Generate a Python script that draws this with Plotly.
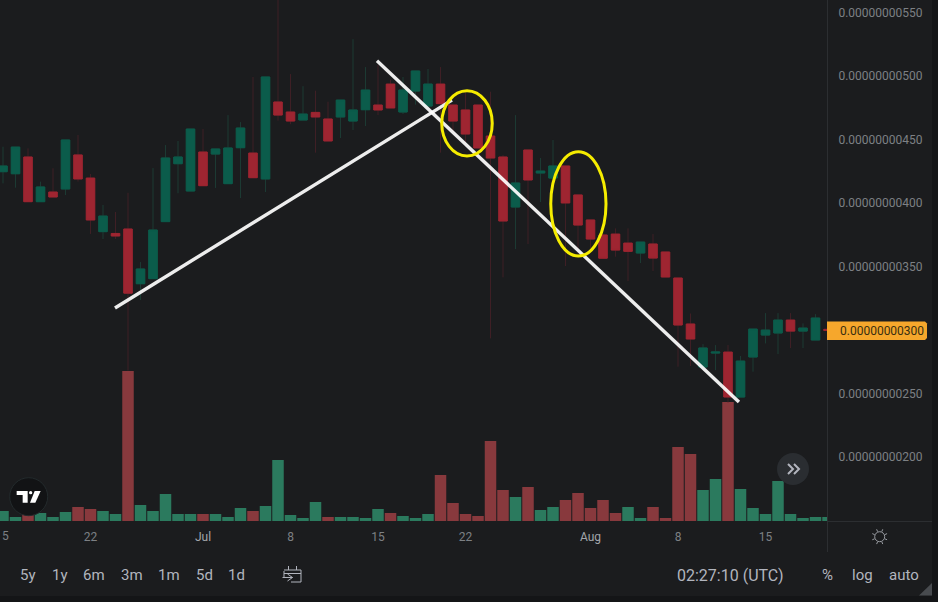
import math
import pandas as pd
import plotly.graph_objects as go

# ---- data (price unit: 1e-11, so 300 = 0.00000000300) ----
DATES = pd.date_range("2022-06-15", periods=67, freq="D")
OPEN = [424.6,423,436.2,401,408.6,411,437.8,419.6,377.4,376,379.5,336.4,340.4,385.3,430.9,409.4,
        440.1,438.5,415.2,443.5,439.3,418.9,479.5,471.6,465.3,471.3,466.1,467.7,464.5,473.4,477.1,493.6,471.6,488.1,476.3,493.6,477.1,473.2,477.1,452.7,436.2,396.8,441.7,423.6,419.6,429.1,406.3,
        386.6,374.8,375.5,368.4,360.6,367.7,361.4,340.9,304.7,270.8,281.8,282.6,247.2,278.7,296,297.6,307.8,299.1,292.1,300.5]
CLOSE = [429.1,444,401,412.6,404.7,449.6,418.9,386.6,389.7,374,329,348,378.7,435.4,436.2,458.2,
         413.6,442.5,443.3,459,419.9,499.2,469.2,464.5,470,467.7,448.8,481,473.2,488.9,473.2,474.8,488.9,503.9,493.6,478.2,464.5,454.3,443.3,435.4,385.8,415.7,418.1,425.1,429.1,400,382.6,
         371.6,356.5,362.9,361.9,369.2,356.6,341.7,303.9,292.9,285.8,282.6,247.2,275.5,300.7,299.9,307.8,299.1,301.5,309.4,299.7]
HIGH = [444.3,444,443,416.8,427.3,449.6,453.5,422.8,398.4,392.9,408,353.5,427.5,445.6,448.8,458.2,
        458.2,442.5,469.2,463.7,499.2,499.2,570,501.5,492,488.4,479.7,481,529,507,508.6,497,499.2,503.9,505.5,507,477.1,486.9,477.1,487.6,437.8,469.2,441.7,435.4,449.6,429.1,406.3,
        386.6,374.8,380,380,369.2,375.5,361.4,340.9,313,288.9,288.1,288.1,279.5,300.7,313.3,313.3,313.3,305.2,312.5,301]
LOW = [415.4,412,401,401,404.7,406.2,416.8,375.6,371.6,371.6,268,323.6,340.4,385.3,407.6,409.4,
       413.6,411.8,415.2,403.9,419.9,408.6,464.8,462,465.3,439.6,448.8,451.1,457.4,460.6,469.2,474.8,470,477.4,476.3,439.6,456.1,447,443.3,293.4,341.4,363.7,367.7,400.7,418,350.3,360.3,
       362.9,356.5,357.7,338.5,352.7,346.4,341.7,271.1,271.6,270.8,268.4,243,247.2,267.1,289.4,281,285.8,285.8,292.1,299]
VOLUME = [10,4,7,8,4,9,14,12,10,7,150,16,10,27,7,7,7,7,4,13,10,15,61,6,3,19,4,4,4,3,12,8,5,3,
          7,46,18,7,5,80,31,24,34,11,14,21,28,13,21,8,14,3,14,3,74,67,31,42,119,32,13,7,40,7,3,4,4]
VOLUME_UP = [1,1,0,1,1,1,0,0,1,1,0,1,1,1,1,1,0,1,1,1,0,1,1,1,1,1,0,1,1,1,1,0,1,1,
             1,0,0,0,0,0,0,1,0,1,1,0,0,0,0,0,1,1,0,0,0,0,1,1,0,1,1,1,1,1,1,1,1]
PRICE_TICKS = [200,250,350,400,450,500,550]
PRICE_LABELS = ["0.00000000200","0.00000000250","0.00000000350","0.00000000400",
                "0.00000000450","0.00000000500","0.00000000550"]
DATE_TICKS = ["2022-06-22","2022-07-01","2022-07-08","2022-07-15","2022-07-22","2022-08-01","2022-08-08","2022-08-15"]
DATE_LABELS = ["22","<span style='color:#a3a6ab'>Jul</span>","8","15","22","<span style='color:#a3a6ab'>Aug</span>","8","15"]
LAST_PRICE_LABEL = "0.00000000300"
TREND_UP_X = ["2022-06-23 23:00","2022-07-20 22:00"]
TREND_UP_Y = [317.3,481]
TREND_DOWN_X = ["2022-07-14 22:00","2022-08-12 21:00"]
TREND_DOWN_Y = [512,243.3]
ELLIPSE_1 = ["2022-07-20 02:24","2022-07-24 03:22",437,488.4]
ELLIPSE_2 = ["2022-07-28 19:41","2022-08-02 05:46",358.2,440.4]
RANGE_BUTTONS = [("5y",28),("1y",60),("6m",94),("3m",132),("1m",169),("5d",204),("1d",237)]

# ---- style ----
W,H = 938,602
BG="#1b1c1e"; OUTER="#141517"; AXIS="#2c2e31"; TXT="#7d8084"; BTN="#b2b5be"
UP="#0b5c4b"; DOWN="#9e2531"; UP_WICK="#1c3a33"; DOWN_WICK="#3f1f25"
VUP="#2b7a5e"; VDOWN="#88393d"
FONT="Roboto"

def px(x): return x/W
def py(y): return 1-y/H
def path(points, close=False):
    s="M "+" L ".join(f"{px(a):.5f},{py(b):.5f}" for a,b in points)
    return s+(" Z" if close else "")
def z4(a,b): return (a/3,360+b/3)

fig=go.Figure()
fig.add_trace(go.Bar(x=DATES,y=VOLUME,marker=dict(color=[VUP if u else VDOWN for u in VOLUME_UP],line_width=0),
                     yaxis="y",hoverinfo="skip",showlegend=False))
def candle(o,h,l,c,cu,cd):
    return go.Candlestick(x=DATES,open=o,high=h,low=l,close=c,yaxis="y2",hoverinfo="skip",showlegend=False,
        increasing=dict(line=dict(color=cu,width=1),fillcolor=UP),
        decreasing=dict(line=dict(color=cd,width=1),fillcolor=DOWN))
fig.add_trace(candle(OPEN,HIGH,LOW,CLOSE,UP_WICK,DOWN_WICK))
body_hi=[max(a,b) for a,b in zip(OPEN,CLOSE)]
body_lo=[min(a,b) for a,b in zip(OPEN,CLOSE)]
fig.add_trace(candle(OPEN,body_hi,body_lo,CLOSE,UP,DOWN))
for xs,ys in ((TREND_UP_X,TREND_UP_Y),(TREND_DOWN_X,TREND_DOWN_Y)):
    fig.add_trace(go.Scatter(x=xs,y=ys,mode="lines",yaxis="y2",hoverinfo="skip",showlegend=False,
                             line=dict(color="rgba(255,255,255,0.92)",width=3.4)))

shapes=[
    dict(type="rect",xref="paper",yref="paper",x0=0,x1=px(932),y0=py(596),y1=1,fillcolor=BG,line_width=0,layer="below"),
    dict(type="line",xref="paper",yref="paper",x0=px(827.5),x1=px(827.5),y0=1,y1=py(552),line=dict(color=AXIS,width=1)),
    dict(type="line",xref="paper",yref="paper",x0=px(827),x1=px(932),y0=py(521.5),y1=py(521.5),line=dict(color=AXIS,width=1)),
]
for e in (ELLIPSE_1,ELLIPSE_2):
    shapes.append(dict(type="circle",xref="x",yref="y2",x0=e[0],x1=e[1],y0=e[2],y1=e[3],line=dict(color="#f5ec00",width=3),layer="above"))
# last price tag
shapes.append(dict(type="path",xref="paper",yref="paper",fillcolor="#f6a72c",line_width=0,
    path=path([(827,321.5),(925,321.5),(927,323.5),(927,338),(925,340),(827,340)],True)))
# logo
shapes.append(dict(type="circle",xref="paper",yref="paper",x0=px(9.7),x1=px(47.7),y0=py(515.7),y1=py(477.7),fillcolor="#121315",line=dict(color="#232a2c",width=1)))
for pts in ([(50,393),(83,393),(83,428),(68,428),(68,405),(50,405)],[(104,393),(122,393),(106,428),(90,428)]):
    shapes.append(dict(type="path",xref="paper",yref="paper",fillcolor="#ffffff",line_width=0,path=path([z4(*p) for p in pts],True)))
shapes.append(dict(type="circle",xref="paper",yref="paper",x0=px(z4(87,0)[0]),x1=px(z4(97,0)[0]),y0=py(z4(0,403)[1]),y1=py(z4(0,393)[1]),fillcolor="#ffffff",line_width=0))
# scroll button
shapes.append(dict(type="circle",xref="paper",yref="paper",x0=px(777),x1=px(809),y0=py(485),y1=py(453),fillcolor="#2a2d31",line_width=0))
for dx in (0,6):
    shapes.append(dict(type="path",xref="paper",yref="paper",line=dict(color=BTN,width=2),
        path=path([(788+dx,464),(793+dx,469),(788+dx,474)])))
# calendar icon
for pts in ([(284,571),(284,577)],[(284,570),(301,570),(301,582),(291,582)],[(284,573.5),(301,573.5)],
            [(288.5,566),(288.5,570)],[(296.5,566),(296.5,570)],[(282.5,577.5),(292.5,577.5)],[(287.5,574),(292.5,577.5),(287.5,581)]):
    shapes.append(dict(type="path",xref="paper",yref="paper",line=dict(color=BTN,width=1),path=path(pts)))
# sun icon
shapes.append(dict(type="circle",xref="paper",yref="paper",x0=px(874.7),x1=px(884.7),y0=py(541.7),y1=py(531.7),line=dict(color="#9a9da3",width=1)))
for k in range(8):
    a=k*math.pi/4+math.pi/8
    shapes.append(dict(type="line",xref="paper",yref="paper",x0=px(879.7+5.5*math.cos(a)),x1=px(879.7+8*math.cos(a)),
        y0=py(536.7+5.5*math.sin(a)),y1=py(536.7+8*math.sin(a)),line=dict(color="#9a9da3",width=1)))
# resize grip
shapes.append(dict(type="path",xref="paper",yref="paper",fillcolor="#484b4f",line_width=0,path=path([(932,583),(932,595.5),(919,595.5)],True)))

ann=[dict(xref="paper",yref="paper",x=px(838),y=py(331),xanchor="left",yanchor="middle",showarrow=False,
          text=LAST_PRICE_LABEL,font=dict(family=FONT,size=12,color="#3a2f10")),
     dict(xref="paper",yref="paper",x=px(5),y=py(536),xanchor="center",yanchor="middle",showarrow=False,
          text="5",font=dict(family=FONT,size=12,color=TXT))]
for t,x in RANGE_BUTTONS+[("%",827),("log",862),("auto",904)]:
    ann.append(dict(xref="paper",yref="paper",x=px(x),y=py(575),xanchor="center",yanchor="middle",showarrow=False,
                    text=t,font=dict(family=FONT,size=15,color=BTN)))
ann.append(dict(xref="paper",yref="paper",x=px(730),y=py(575),xanchor="center",yanchor="middle",showarrow=False,
                text="02:27:10 (UTC)",font=dict(family=FONT,size=16,color=BTN)))

fig.update_layout(width=W,height=H,margin=dict(l=0,r=0,t=0,b=0),autosize=False,
    paper_bgcolor=OUTER,plot_bgcolor="rgba(0,0,0,0)",showlegend=False,bargap=0.08,boxgap=0.03,
    font=dict(family=FONT,size=12,color=TXT),shapes=shapes,annotations=ann,
    xaxis=dict(domain=[0,827/W],type="date",range=["2022-06-14 18:14","2022-08-19 22:04"],rangeslider=dict(visible=False),
               tickmode="array",tickvals=DATE_TICKS,ticktext=DATE_LABELS,ticks="outside",ticklen=5,tickcolor="rgba(0,0,0,0)",
               showgrid=False,zeroline=False,showline=False,tickfont=dict(family=FONT,size=12,color=TXT),tickangle=0),
    yaxis=dict(domain=[1-521/H,1],range=[0,521],visible=False,fixedrange=True),
    yaxis2=dict(domain=[1-521/H,1],overlaying="y",side="right",anchor="x",range=[149.6,559.8],
                tickmode="array",tickvals=PRICE_TICKS,ticktext=PRICE_LABELS,ticks="outside",ticklen=8,tickcolor="rgba(0,0,0,0)",
                showgrid=False,zeroline=False,showline=False,tickfont=dict(family=FONT,size=12,color=TXT)))

fig.write_html("out.html",config=dict(displayModeBar=False),post_script="document.body.style.margin='0';document.body.style.overflow='hidden';")
